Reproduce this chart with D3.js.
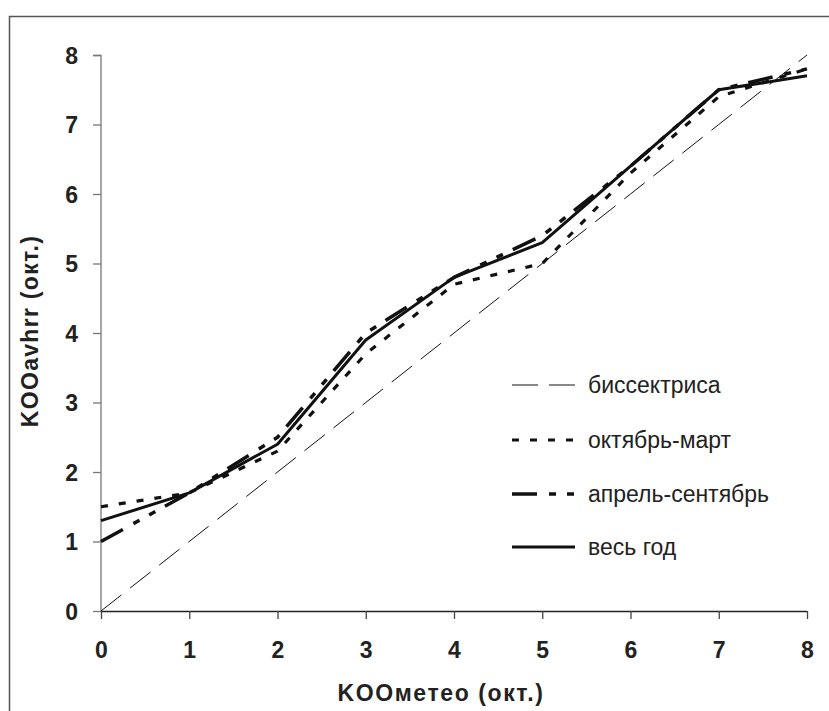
<!DOCTYPE html>
<html><head><meta charset="utf-8">
<script src="https://cdn.jsdelivr.net/npm/d3@7"></script>
<style>body{margin:0;background:#fff}svg{display:block}</style>
</head><body>
<script>
const xValues = [0,1,2,3,4,5,6,7,8];
const bisector = [0,1,2,3,4,5,6,7,8];
const octMar = [1.5,1.7,2.3,3.7,4.7,5.0,6.3,7.4,7.8];
const aprSep = [1.0,1.7,2.5,4.0,4.8,5.4,6.4,7.5,7.8];
const wholeYear = [1.3,1.7,2.4,3.9,4.8,5.3,6.4,7.5,7.7];
const xTicks = [0,1,2,3,4,5,6,7,8];
const yTicks = [0,1,2,3,4,5,6,7,8];
const seriesNames = ["биссектриса","октябрь-март","апрель-сентябрь","весь год"];
const xTitle = "KOOметео (окт.)";
const yTitle = "KOOavhrr (окт.)";

const W = 829, H = 711;
const svg = d3.select("body").append("svg").attr("width", W).attr("height", H);
svg.append("rect").attr("x",9.5).attr("y",16.5).attr("width",W+20).attr("height",H+20)
  .attr("fill","none").attr("stroke","#555").attr("stroke-width",1.5);

const x = d3.scaleLinear().domain([0,8]).range([101,807]);
const y = d3.scaleLinear().domain([0,8]).range([611,55]);
const font = "'Liberation Sans', Arial, sans-serif";

// axes
const yAxis = svg.append("g").attr("transform","translate(101,0)")
  .call(d3.axisLeft(y).tickValues(yTicks).tickSize(8).tickPadding(15).tickFormat(d3.format("d")));
yAxis.select(".domain").attr("stroke","#777").attr("stroke-width",1.3).attr("d","M-8,55.5H0V611");
yAxis.selectAll(".tick line").attr("stroke","#777").attr("stroke-width",1.3);
yAxis.selectAll(".tick text").attr("font-family",font).attr("font-weight","bold").attr("font-size",23).attr("fill","#222").attr("dy","0.36em");

const xAxis = svg.append("g").attr("transform","translate(0,611)")
  .call(d3.axisBottom(x).tickValues(xTicks).tickSize(8).tickPadding(23).tickFormat(d3.format("d")));
xAxis.select(".domain").attr("stroke","#222").attr("stroke-width",1.3).attr("d","M101,0.5H807");
xAxis.selectAll(".tick line").attr("stroke","#444").attr("stroke-width",1.3);
xAxis.selectAll(".tick text").attr("font-family",font).attr("font-weight","bold").attr("font-size",23).attr("fill","#222");

svg.append("text").attr("x",441).attr("y",701).attr("text-anchor","middle")
  .attr("font-family",font).attr("font-weight","bold").attr("font-size",23).attr("letter-spacing",1.6)
  .attr("fill","#222").text(xTitle);
svg.append("text").attr("transform","translate(38,331) rotate(-90)").attr("text-anchor","middle")
  .attr("font-family",font).attr("font-weight","bold").attr("font-size",23).attr("letter-spacing",1.3)
  .attr("fill","#222").text(yTitle);

const styles = [
  {data: bisector, w: 1, dash: "26,11"},
  {data: octMar, w: 3.2, dash: "7,11"},
  {data: aprSep, w: 3.5, dash: "25,12,7,11,7,11"},
  {data: wholeYear, w: 3, dash: null}
];
const line = d3.line().x((d,i)=>x(xValues[i])).y(d=>y(d));
styles.forEach(s => {
  svg.append("path").datum(s.data).attr("d", line).attr("fill","none")
    .attr("stroke","#111").attr("stroke-width", s.w)
    .attr("stroke-dasharray", s.dash).attr("stroke-linejoin","round");
});

// legend
const legY = [385,440,494,547];
styles.forEach((s,i) => {
  svg.append("line").attr("x1",512).attr("x2",575).attr("y1",legY[i]).attr("y2",legY[i])
    .attr("stroke","#111").attr("stroke-width",s.w).attr("stroke-dasharray",s.dash);
  svg.append("text").attr("x",588).attr("y",legY[i]+8).attr("font-family",font)
    .attr("font-size",23).attr("fill","#222").text(seriesNames[i]);
});
</script>
</body></html>
